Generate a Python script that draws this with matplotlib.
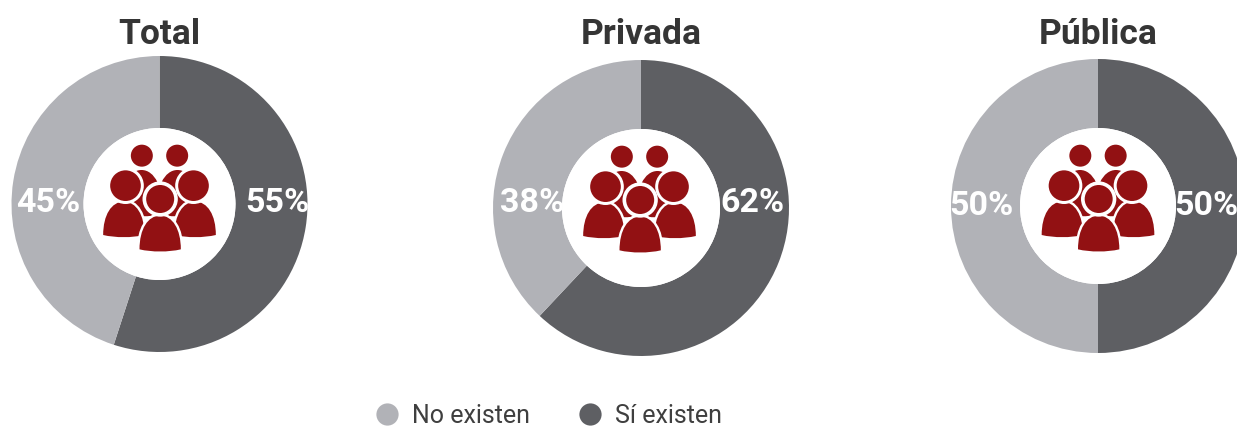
import matplotlib
matplotlib.use('Agg')
import matplotlib.pyplot as plt
from matplotlib.lines import Line2D
from matplotlib.patches import Circle, PathPatch
from matplotlib.path import Path

W, H = 1237, 428

titles = ['Total', 'Privada', 'Pública']
no_existen = [45, 38, 50]
si_existen = [55, 62, 50]
legend_labels = ['No existen', 'Sí existen']

LIGHT = '#B1B2B7'
DARK = '#5E5F63'
RED = '#921113'
TEXT = '#353535'

# layout in pixels: center x, center y, outer radius, inner radius
donuts = [(159.5, 204, 148, 76), (641, 208, 148, 79), (1098, 206, 147, 78)]
title_y = [34, 34, 34]
label_left = [(-111, 1), (-109, 5), (-117, 0)]
label_right = [(118, 1), (111, 5), (108, 0)]
icon_shift = [(0, 0), (-1.5, 3), (0, 2)]

plt.rcParams['font.family'] = ['Roboto', 'DejaVu Sans']


def dome(cx, top, bottom, half):
    # head-and-shoulders body, slightly curved at the bottom
    k = 0.6
    h = top - bottom
    verts = [(cx - half, bottom), (cx - half, bottom + k * h), (cx - k * half, top), (cx, top),
             (cx + k * half, top), (cx + half, bottom + k * h), (cx + half, bottom),
             (cx + half * 0.4, bottom - half * 0.14), (cx - half * 0.4, bottom - half * 0.14), (cx - half, bottom)]
    codes = [Path.MOVETO] + [Path.CURVE4] * 9
    return Path(verts, codes)


def draw_icon(ax, r, shift):
    s = 1 / (3 * r)
    ox, oy = shift[0] * 3, shift[1] * 3

    def body(cx, top, bottom, half, z, ring=0):
        path = dome((cx + ox) * s, (top + oy) * s, (bottom + oy) * s, half * s)
        if ring:
            ax.add_patch(PathPatch(path, fc='white', ec='white', lw=ring, zorder=z))
        ax.add_patch(PathPatch(path, fc=RED, ec='none', lw=0, zorder=z))

    def head(cx, cy, rad, z, ring=0):
        center = ((cx + ox) * s, (cy + oy) * s)
        if ring:
            ax.add_patch(Circle(center, (rad + ring) * s, fc='white', ec='none', zorder=z))
        ax.add_patch(Circle(center, rad * s, fc=RED, ec='none', zorder=z))

    for sign in (-1, 1):
        head(sign * 53, 145, 33, 5)
        body(sign * 54, 102, -30, 66, 5)
    for sign in (-1, 1):
        body(sign * 107, 7, -93, 62, 6, ring=3.5)
        head(sign * 102, 55, 46, 6, ring=9)
    body(2, -35, -136, 62, 7, ring=3.5)
    head(2, 15, 42, 7, ring=11)


fig = plt.figure(figsize=(W / 100, H / 100), dpi=100, facecolor='white')

for i, (cx, cy, r, r_in) in enumerate(donuts):
    ax = fig.add_axes([(cx - r) / W, 1 - (cy + r) / H, 2 * r / W, 2 * r / H])
    ax.pie([si_existen[i], no_existen[i]], colors=[DARK, LIGHT], startangle=90, counterclock=False,
           radius=1, wedgeprops=dict(width=1 - r_in / r, linewidth=0))
    ax.add_patch(Circle((0, 0), r_in / r, fc='white', ec='none', zorder=3))
    ax.set_xlim(-1, 1)
    ax.set_ylim(-1, 1)
    ax.set_aspect('equal')
    ax.axis('off')
    draw_icon(ax, r, icon_shift[i])
    dx, dy = label_left[i]
    ax.text(dx / r, dy / r, f'{no_existen[i]}%', color='white', fontsize=24.5, fontweight='bold',
            ha='center', va='center', zorder=9, clip_on=False)
    dx, dy = label_right[i]
    ax.text(dx / r, dy / r, f'{si_existen[i]}%', color='white', fontsize=24.5, fontweight='bold',
            ha='center', va='center', zorder=9, clip_on=False)
    fig.text(cx / W, 1 - title_y[i] / H, titles[i], color=TEXT, fontsize=25.5, fontweight='bold',
             ha='center', va='center')

handles = [Line2D([], [], marker='o', ls='none', ms=16, mfc=LIGHT, mec='none'),
           Line2D([], [], marker='o', ls='none', ms=16, mfc=DARK, mec='none')]
fig.legend(handles, legend_labels, ncol=2, frameon=False, loc='center', bbox_to_anchor=(548 / W, 1 - 416 / H),
           fontsize=18, labelcolor='#3f3f3f', handlelength=1, handletextpad=0.5, columnspacing=1.9, borderpad=0)

fig.savefig('out.png', dpi=100)
